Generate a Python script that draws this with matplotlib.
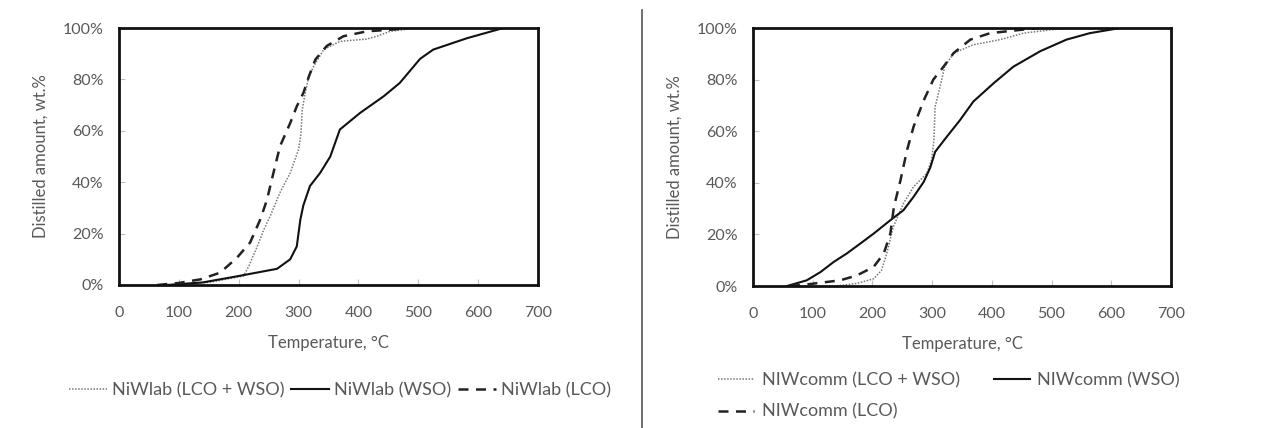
import matplotlib
matplotlib.use("Agg")
import matplotlib.pyplot as plt
from matplotlib.lines import Line2D
from matplotlib.ticker import PercentFormatter

plt.rcParams['font.family'] = ['Lato', 'DejaVu Sans']

# Left panel: NiWlab
lab_mix_T = [80, 150, 208, 217, 231, 242, 253, 269, 286, 300, 304, 306, 311, 317, 325, 342, 369, 414, 431, 453, 497]
lab_mix_V = [0, 1.0, 3.5, 7.4, 15, 21.6, 27, 36, 43.6, 52.7, 59, 68, 74.7, 81, 85, 91.6, 94.8, 95.7, 96.8, 98.7, 100]

lab_wso_T = [80, 140, 200, 264, 286, 297, 303, 308, 319, 336, 353, 369, 403, 442, 469, 503, 525, 581, 636, 642]
lab_wso_V = [0, 1.0, 3.5, 6.3, 10, 15, 25.5, 31, 38.5, 43.6, 50, 60.5, 67, 73.4, 78.6, 88, 91.6, 96, 99.6, 100]

lab_lco_T = [64, 100, 136, 169, 197, 219, 236, 247, 258, 269, 286, 297, 308, 317, 328, 347, 375, 414, 469, 480]
lab_lco_V = [0, 0.8, 2.2, 4.8, 10.6, 16.5, 25.5, 33, 43.6, 54, 63, 69.5, 74.7, 81, 87.7, 93, 96.8, 98.7, 99.6, 100]

# Right panel: NiWcomm
com_mix_T = [140, 174, 202, 215, 224, 235, 252, 269, 291, 299, 303, 305, 313, 321, 336, 369, 414, 453, 509, 535]
com_mix_V = [0, 1.0, 2.8, 6, 12.6, 23, 32, 38.5, 43.6, 48.8, 56.6, 69.5, 77, 85, 90.3, 93.5, 95.5, 98, 99.6, 100]

com_wso_T = [57, 90, 113, 135, 157, 180, 202, 230, 252, 269, 286, 297, 305, 325, 347, 369, 403, 436, 481, 525, 564, 615]
com_wso_V = [0, 2.2, 5.4, 9.3, 12.6, 16.5, 20.3, 25.5, 29.4, 34.6, 40.4, 46, 52, 58, 64.4, 71.5, 78.6, 85, 91, 95.5, 98, 100]

com_lco_T = [62, 90, 146, 174, 202, 219, 230, 236, 247, 258, 269, 286, 302, 319, 336, 364, 397, 453, 480]
com_lco_V = [0, 0.6, 2.2, 4.1, 7.4, 12.6, 20.3, 30.7, 41, 52.7, 61.8, 72, 80, 85, 90.3, 95.5, 98, 99.4, 100]

x_ticks = [0, 100, 200, 300, 400, 500, 600, 700]
y_ticks = [0, 20, 40, 60, 80, 100]

TXT = '#595959'
fig = plt.figure(figsize=(12.63, 4.28), dpi=100)

def style(ax):
    ax.set_xlim(0, 700)
    ax.set_ylim(0, 100)
    ax.set_xticks(x_ticks)
    ax.set_yticks(y_ticks)
    ax.yaxis.set_major_formatter(PercentFormatter(decimals=0))
    ax.tick_params(direction='in', length=4, width=0.8, color='#c0c0c0',
                   labelsize=11.5, labelcolor=TXT)
    ax.tick_params(axis='x', pad=15)
    ax.tick_params(axis='y', pad=11)
    for s in ax.spines.values():
        s.set_linewidth(2.0)
        s.set_color('#111111')
    ax.set_xlabel('Temperature, °C', fontsize=12, color=TXT, labelpad=11)
    ax.set_ylabel('Distilled amount, wt.%', fontsize=12, color=TXT, labelpad=10)

axL = fig.add_axes([119/1263, 1-285/428, 419/1263, 257/428])
axR = fig.add_axes([753/1263, 1-286/428, 418/1263, 258/428])

l1, = axL.plot(lab_mix_T, lab_mix_V, color='#777777', lw=1.1, ls=(0, (1, 1)), label='NiWlab (LCO + WSO)')
l2, = axL.plot(lab_wso_T, lab_wso_V, color='#111111', lw=1.5, ls='-', label='NiWlab (WSO)')
l3, = axL.plot(lab_lco_T, lab_lco_V, color='#222222', lw=1.8, ls=(0, (4, 3)), label='NiWlab (LCO)')
style(axL)
fig.legend(handles=[l1, l2, l3], loc='center', bbox_to_anchor=(340/1263, 1-390/428), ncol=3,
           frameon=False, fontsize=13, labelcolor=TXT, handlelength=2.1, handletextpad=0.3,
           columnspacing=0.35)

r1, = axR.plot(com_mix_T, com_mix_V, color='#777777', lw=1.1, ls=(0, (1, 1)), label='NIWcomm (LCO + WSO)')
r2, = axR.plot(com_wso_T, com_wso_V, color='#111111', lw=1.5, ls='-', label='NIWcomm (WSO)')
r3, = axR.plot(com_lco_T, com_lco_V, color='#222222', lw=1.8, ls=(0, (4, 3)), label='NIWcomm (LCO)')
style(axR)
fig.legend(handles=[r1, r3, r2], loc='upper left', bbox_to_anchor=(702/1263, 1-356/428), ncol=2,
           frameon=False, fontsize=13, labelcolor=TXT, handlelength=2.0, handletextpad=0.4,
           columnspacing=1.9, labelspacing=0.85)

fig.add_artist(Line2D([642/1263, 642/1263], [0, 1-10/428], transform=fig.transFigure,
                      color='#555555', lw=1.2))

fig.savefig('out.png', dpi=100)
